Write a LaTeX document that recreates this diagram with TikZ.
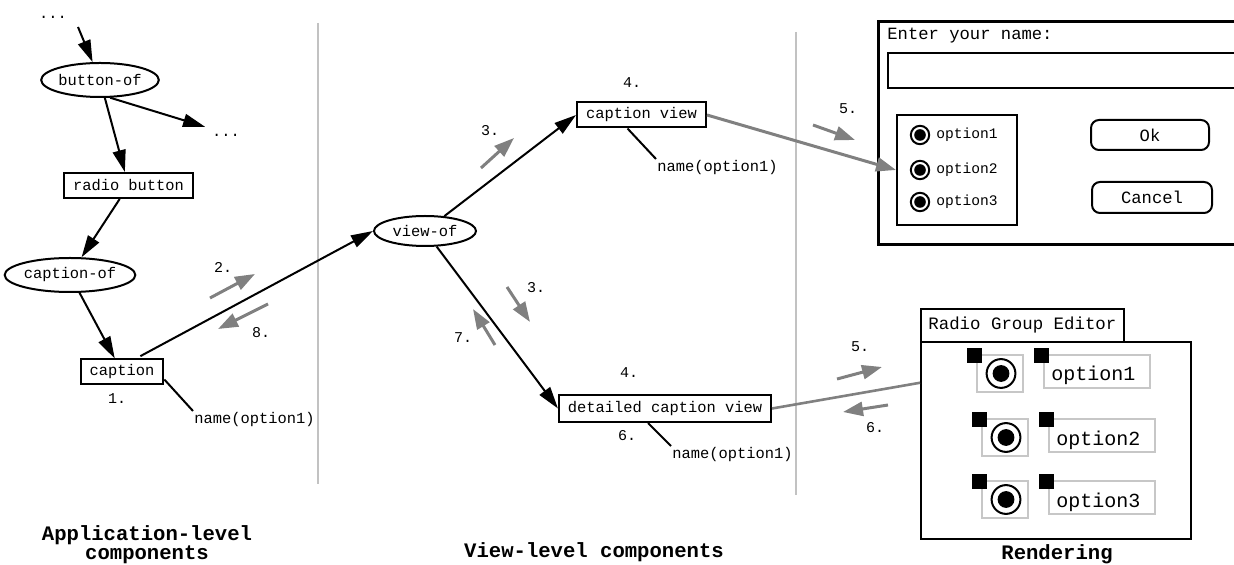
\documentclass[tikz,border=0pt]{standalone}
\usepackage{fontspec}
\setmainfont{Liberation Mono}
\usetikzlibrary{arrows.meta,shapes.geometric,positioning}
\definecolor{flowgray}{rgb}{0.5,0.5,0.5}
\definecolor{divgray}{rgb}{0.76,0.76,0.76}
\definecolor{boxgray}{rgb}{0.78,0.78,0.78}
\tikzstyle{link} = [draw,line width=1pt,-{Triangle[length=11pt,width=6.5pt]}]
\tikzstyle{tie} = [draw,line width=1pt]
\tikzstyle{flow} = [draw=flowgray,line width=1.5pt,-{Triangle[length=10pt,width=7pt]}]
\tikzstyle{comp} = [draw,line width=1pt,rectangle,minimum height=12.5pt,inner xsep=4.5pt,inner ysep=0pt]
\tikzstyle{rel} = [draw,line width=1pt,ellipse,inner sep=0pt,minimum height=17pt]
\tikzstyle{num} = [font=\fontsize{7.5}{9}\selectfont]
\tikzstyle{attr} = [anchor=north west,inner sep=0.5pt]
\tikzstyle{title} = [font=\fontsize{10.3}{9.6}\selectfont\bfseries,align=center]

\begin{document}
\begin{tikzpicture}[x=0.5pt,y=-0.5pt,font=\fontsize{7.7}{9}\selectfont]
    \useasboundingbox (0,0) rectangle (1234,565);
    % dividers
    \draw[divgray,line width=1pt] (318,23) -- (318,484);
    \draw[divgray,line width=1pt] (796,32) -- (796,495);

    % application-level components
    \node (topdots) at (53,17) {...};
    \coordinate (topin) at (78,27);
    \node[rel,minimum width=57.5pt] (buttonof) at (100,80) {button-of};
    \node (moredots) at (226,135) {...};
    \node[comp] (radiobtn) at (128.5,185.5) {radio button};
    \node[rel,minimum width=63pt] (captionof) at (70,275) {caption-of};
    \node[comp] (caption) at (122,372) {caption};
    \node[num] (n1) at (117,399) {1.};
    \node[attr] (capname) at (193,411) {name(option1)};

    % view-level components
    \node[rel,minimum width=51pt,minimum height=15pt] (viewof) at (425,231) {view-of};
    \node[comp] (capview) at (641.5,115) {caption view};
    \node[comp,minimum height=13.5pt] (detview) at (665,408.5) {detailed caption view};
    \node[attr] (cvname) at (656,159) {name(option1)};
    \node[attr] (dvname) at (671,446) {name(option1)};

    \draw
    (topin) edge[link] (buttonof)
    (buttonof) edge[link] (radiobtn)
    (buttonof.-60) edge[link] (moredots.north west)
    (radiobtn) edge[link] (captionof)
    (captionof) edge[link] (caption)
    ([xshift=7pt]caption.north) edge[link,shorten <=2.5pt] (viewof.west)
    (viewof) edge[link] (capview.west)
    (viewof) edge[link] (detview.west)
    ([yshift=3pt]caption.south east) edge[tie] (capname.north west)
    ([xshift=-7pt]capview.south) edge[tie] (cvname.north west)
    ([xshift=-8.5pt]detview.south) edge[tie] (dvname.north west)
    ;

    % steps
    \node[num] (n2) at (223,267) {2.};
    \node[num] (n8) at (261,333) {8.};
    \node[num] (n3a) at (490,131) {3.};
    \node[num] (n4a) at (632,83) {4.};
    \node[num] (n3b) at (536,288) {3.};
    \node[num] (n7) at (463,338) {7.};
    \node[num] (n4b) at (629,373) {4.};
    \node[num] (n6a) at (627,436) {6.};
    \node[num] (n5a) at (848,109) {5.};
    \node[num] (n5b) at (860,347) {5.};
    \node[num] (n6b) at (875,428) {6.};
    \draw[flow] (210,298) -- (255,274);
    \draw[flow] (268,304) -- (218,329);
    \draw[flow] (481,168) -- (514,138);
    \draw[flow] (507,287) -- (530,322);
    \draw[flow] (495,345) -- (473,309);
    \draw[flow] (813,125) -- (855,140);
    \draw[flow] (837,379) -- (882,367);
    \draw[flow] (888,405) -- (843,412);

    % rendering: dialog
    \draw[line width=1.5pt] (878,22) rectangle (1250,245);
    \node[anchor=base west,inner sep=0pt,font=\fontsize{8.6}{10}\selectfont] (prompt) at (887,40) {Enter your name:};
    \draw[line width=1pt] (888,53) rectangle (1250,88);
    \node[draw,line width=1pt,minimum width=60pt,minimum height=55pt] (radiogrp) at (957,170) {};
    \foreach \i/\y in {1/135,2/170,3/202} {
        \draw[line width=1pt] (920,\y) circle (4.6pt);
        \fill (920,\y) circle (2.9pt);
        \node[anchor=west,inner sep=0pt,font=\fontsize{7.3}{9}\selectfont] (dopt\i) at (936,\y) {option\i};
    }
    \node[draw,line width=1pt,rounded corners=4pt,minimum width=59pt,minimum height=15pt,font=\fontsize{8.6}{10}\selectfont] (okbtn) at (1150,135) {Ok};
    \node[draw,line width=1pt,rounded corners=4pt,minimum width=60pt,minimum height=15.5pt,font=\fontsize{8.6}{10}\selectfont] (cancelbtn) at (1152,197.5) {Cancel};
    \draw[flow] (capview.east) -- (radiogrp.west);

    % rendering: radio group editor
    \node[draw,line width=1pt,minimum width=135pt,minimum height=98.5pt] (editor) at (1056,440.5) {};
    \draw[line width=1pt] (921,342) |- (1124,309) -- (1124,342);
    \node[anchor=base west,inner sep=0pt,font=\fontsize{8.7}{10}\selectfont] (tab) at (928,330) {Radio Group Editor};
    \foreach \i/\x/\y in {1/977/355,2/982/419,3/982/481} {
        \draw[boxgray,line width=1pt] (\x,\y) rectangle ++(46,37);
        \draw[boxgray,line width=1pt] (\x+67,\y) rectangle ++(106,33);
        \fill (\x-10,\y-7) rectangle ++(15,15);
        \fill (\x+57,\y-7) rectangle ++(15,15);
        \draw[line width=1pt] (\x+24,\y+18.5) circle (7.2pt);
        \fill (\x+24,\y+18.5) circle (4.2pt);
        \node[anchor=base west,inner sep=0pt,font=\fontsize{10}{12}\selectfont] (eopt\i) at (\x+74,\y+26) {option\i};
    }
    \draw[flowgray,line width=1.3pt] (detview.east) -- (editor.157);

    % titles
    \node[title] (apptitle) at (147,545) {Application-level\\components};
    \node[title,anchor=base] (viewtitle) at (594,557) {View-level components};
    \node[title,anchor=base] (rendtitle) at (1057,559) {Rendering};
\end{tikzpicture}
\end{document}
